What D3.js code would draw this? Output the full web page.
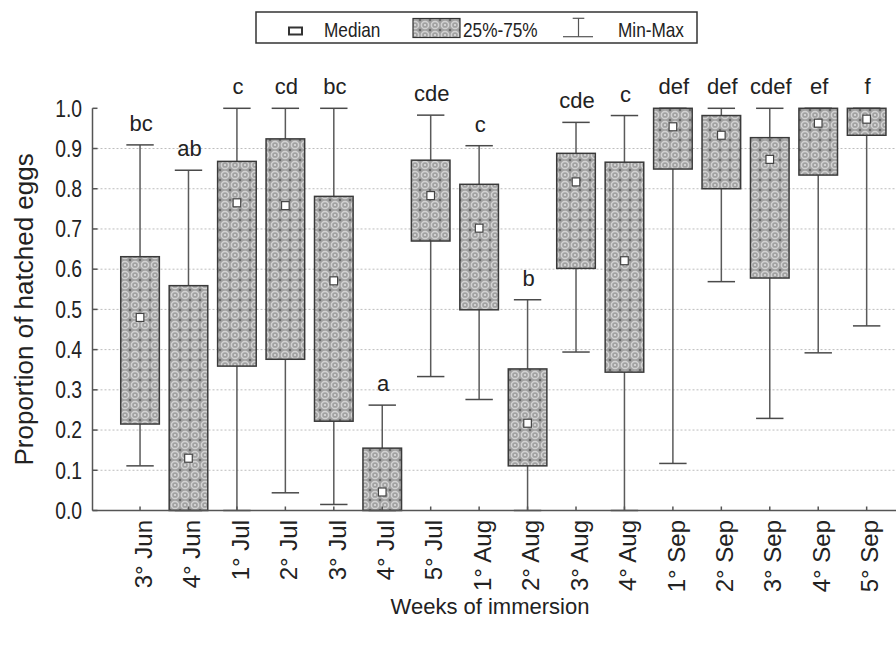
<!DOCTYPE html>
<html><head><meta charset="utf-8">
<script src="https://cdn.jsdelivr.net/npm/d3@7"></script>
<style>
html,body{margin:0;padding:0;background:#fff;}
svg text{font-family:"Liberation Sans",Arial,sans-serif;fill:#222;}
</style></head>
<body>
<svg id="chart" width="896" height="646"></svg>
<script>
const categories = ["3° Jun","4° Jun","1° Jul","2° Jul","3° Jul","4° Jul","5° Jul","1° Aug","2° Aug","3° Aug","4° Aug","1° Sep","2° Sep","3° Sep","4° Sep","5° Sep"];
const minVals    = [0.111,0.000,0.000,0.044,0.015,0.000,0.333,0.276,0.000,0.394,0.000,0.117,0.569,0.229,0.392,0.459];
const q1Vals     = [0.215,0.000,0.359,0.376,0.222,0.000,0.670,0.499,0.111,0.602,0.344,0.849,0.800,0.578,0.834,0.933];
const medianVals = [0.480,0.130,0.765,0.758,0.571,0.046,0.783,0.702,0.217,0.817,0.621,0.954,0.933,0.873,0.963,0.973];
const q3Vals     = [0.631,0.559,0.868,0.924,0.781,0.155,0.871,0.811,0.352,0.888,0.866,1.000,0.982,0.927,1.000,1.000];
const maxVals    = [0.909,0.846,1.000,1.000,1.000,0.262,0.983,0.907,0.524,0.965,0.982,1.000,1.000,1.000,1.000,1.000];
const groupLetters = ["bc","ab","c","cd","bc","a","cde","c","b","cde","c","def","def","cdef","ef","f"];
const yTicks = [0.0,0.1,0.2,0.3,0.4,0.5,0.6,0.7,0.8,0.9,1.0];
const legendLabels = ["Median","25%-75%","Min-Max"];
const xTitle = "Weeks of immersion";
const yTitle = "Proportion of hatched eggs";

const svg = d3.select("#chart");
const plotLeft = 92.5, plotBottom = 510.5, plotTop = 108.3;

const x = d3.scalePoint().domain(categories).range([91.6, 915.1]).padding(1);
const y = d3.scaleLinear().domain([0,1]).range([plotBottom, plotTop]);

const rows = categories.map((c,i)=>({c, min:minVals[i], q1:q1Vals[i], med:medianVals[i], q3:q3Vals[i], max:maxVals[i], g:groupLetters[i]}));

// pattern
const defs = svg.append("defs");
const pat = defs.append("pattern").attr("id","circ").attr("patternUnits","userSpaceOnUse")
  .attr("width",10).attr("height",10);
pat.append("rect").attr("width",10).attr("height",10).attr("fill","#a2a2a2");
pat.append("circle").attr("cx",5).attr("cy",5).attr("r",3.6).attr("fill","none").attr("stroke","#d2d2d2").attr("stroke-width",1.5);
pat.append("circle").attr("cx",5).attr("cy",5).attr("r",1.1).attr("fill","#dcdcdc");
[[0,0],[10,0],[0,10],[10,10]].forEach(p=>pat.append("circle").attr("cx",p[0]).attr("cy",p[1]).attr("r",1.3).attr("fill","#6a6a6a"));

// grid
svg.append("g").selectAll("line").data(yTicks.filter(t=>t>0 && t<1)).join("line")
  .attr("x1",plotLeft).attr("x2",896).attr("y1",d=>y(d)).attr("y2",d=>y(d))
  .attr("stroke","#bdbdbd").attr("stroke-width",1).attr("stroke-dasharray","2,2");

const boxW = 38.6, capW = 27.4;
const g = svg.append("g");
g.selectAll(".wh").data(rows).join("line").attr("class","wh")
  .attr("x1",d=>x(d.c)).attr("x2",d=>x(d.c)).attr("y1",d=>y(d.min)).attr("y2",d=>y(d.max))
  .attr("stroke","#5a5a5a").attr("stroke-width",1.5);
g.selectAll(".capT").data(rows).join("line").attr("class","capT")
  .attr("x1",d=>x(d.c)-capW/2).attr("x2",d=>x(d.c)+capW/2).attr("y1",d=>y(d.max)).attr("y2",d=>y(d.max))
  .attr("stroke","#4a4a4a").attr("stroke-width",1.5);
g.selectAll(".capB").data(rows).join("line").attr("class","capB")
  .attr("x1",d=>x(d.c)-capW/2).attr("x2",d=>x(d.c)+capW/2).attr("y1",d=>y(d.min)).attr("y2",d=>y(d.min))
  .attr("stroke","#4a4a4a").attr("stroke-width",1.5);
g.selectAll(".box").data(rows).join("rect").attr("class","box")
  .attr("x",d=>x(d.c)-boxW/2).attr("width",boxW)
  .attr("y",d=>y(d.q3)).attr("height",d=>y(d.q1)-y(d.q3))
  .attr("fill","url(#circ)").attr("stroke","#3a3a3a").attr("stroke-width",1.5);
g.selectAll(".med").data(rows).join("rect").attr("class","med")
  .attr("x",d=>x(d.c)-3.8).attr("y",d=>y(d.med)-4).attr("width",7.6).attr("height",8)
  .attr("fill","#fff").attr("stroke","#444").attr("stroke-width",1.2);
g.selectAll(".let").data(rows).join("text").attr("class","let")
  .attr("x",d=>x(d.c)+1).attr("y",d=>y(d.max)-14)
  .attr("text-anchor","middle").attr("font-size",22).text(d=>d.g);

// axes
const ax = svg.append("g").attr("stroke","#555").attr("stroke-width",1.5);
ax.append("line").attr("x1",plotLeft).attr("x2",plotLeft).attr("y1",plotTop).attr("y2",plotBottom);
ax.append("line").attr("x1",plotLeft).attr("x2",896).attr("y1",plotBottom).attr("y2",plotBottom);
ax.selectAll(".yt").data(yTicks).join("line").attr("class","yt")
  .attr("x1",plotLeft).attr("x2",plotLeft+5).attr("y1",d=>y(d)).attr("y2",d=>y(d));
ax.selectAll(".xt").data(categories).join("line").attr("class","xt")
  .attr("x1",d=>x(d)).attr("x2",d=>x(d)).attr("y1",plotBottom).attr("y2",plotBottom-4);

// y tick labels (narrow look)
svg.append("g").selectAll("text").data(yTicks).join("text")
  .attr("transform",d=>`translate(82,${y(d)}) scale(0.84,1)`)
  .attr("dy","0.36em").attr("text-anchor","end")
  .attr("font-size",23).text(d=>d.toFixed(1));

svg.append("g").selectAll("text").data(categories).join("text")
  .attr("transform",d=>`translate(${x(d)+11.7},520) rotate(-90)`)
  .attr("text-anchor","end").attr("font-size",24).text(d=>d);

svg.append("text").attr("x",490).attr("y",614).attr("text-anchor","middle").attr("font-size",22).text(xTitle);
svg.append("text").attr("transform",`translate(33,${(plotTop+plotBottom)/2}) rotate(-90)`)
  .attr("text-anchor","middle").attr("font-size",26).text(yTitle);

// legend
const lg = svg.append("g");
lg.append("rect").attr("x",256).attr("y",12).attr("width",441).attr("height",31).attr("fill","#fff").attr("stroke","#333").attr("stroke-width",1.5);
lg.append("rect").attr("x",289).attr("y",27.5).attr("width",13).attr("height",7).attr("fill","#fff").attr("stroke","#333").attr("stroke-width",2);
lg.append("rect").attr("x",413).attr("y",18.5).attr("width",47).attr("height",19).attr("fill","url(#circ)").attr("stroke","#333").attr("stroke-width",1.2);
lg.append("line").attr("x1",578.5).attr("x2",578.5).attr("y1",18.3).attr("y2",36.7).attr("stroke","#555").attr("stroke-width",1.2);
lg.append("line").attr("x1",572.7).attr("x2",584.3).attr("y1",18.3).attr("y2",18.3).attr("stroke","#555").attr("stroke-width",1.2);
lg.append("line").attr("x1",563).attr("x2",593).attr("y1",36.7).attr("y2",36.7).attr("stroke","#555").attr("stroke-width",1.2);
[[324,0],[463,1],[618,2]].forEach(([lx,i])=>lg.append("text")
  .attr("transform",`translate(${lx},36.5) scale(0.82,1)`).attr("font-size",21).text(legendLabels[i]));
</script>
</body></html>
